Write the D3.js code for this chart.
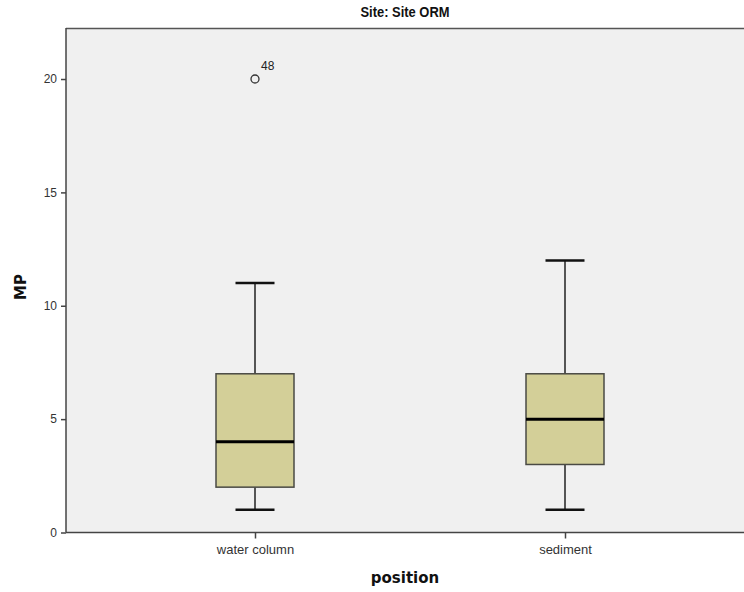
<!DOCTYPE html>
<html><head><meta charset="utf-8">
<script src="https://cdn.jsdelivr.net/npm/d3@7"></script>
<style>body{margin:0;background:#fff}svg{display:block}</style>
</head><body>
<script>
const categories = ["water column", "sediment"];
const whiskerLow = [1, 1];
const q1 = [2, 3];
const median = [4, 5];
const q3 = [7, 7];
const whiskerHigh = [11, 12];
const outlierCat = ["water column"];
const outlierVal = [20];
const outlierLabel = ["48"];
const yTicks = [0, 5, 10, 15, 20];

const W = 744, H = 592;
const m = {left: 66, top: 28, right: 0, bottom: 59};
const svg = d3.select("body").append("svg").attr("width", W).attr("height", H);

const x = d3.scalePoint().domain(categories).range([255, 565]);
const y = d3.scaleLinear().domain([0, 22.25]).range([532.5, m.top]);

// plot background
svg.append("rect").attr("x", m.left).attr("y", m.top).attr("width", W - m.left).attr("height", y(0) - m.top)
  .attr("fill", "#f0f0f0");
svg.append("line").attr("x1", m.left).attr("x2", W).attr("y1", m.top + 0.5).attr("y2", m.top + 0.5)
  .attr("stroke", "#555").attr("stroke-width", 1.5);

// title
svg.append("text").attr("x", 405).attr("y", 17).attr("text-anchor", "middle")
  .attr("font-family", "'Liberation Sans Narrow', 'Arial Narrow', 'Liberation Sans', sans-serif").attr("font-weight", "bold")
  .attr("font-size", 14).attr("textLength", 89).attr("lengthAdjust", "spacingAndGlyphs")
  .attr("fill", "#111").text("Site: Site ORM");

// axes
const yAxis = d3.axisLeft(y).tickValues(yTicks).tickSize(5).tickFormat(d3.format("d"));
const gy = svg.append("g").attr("transform", `translate(${m.left},0)`).call(yAxis);
gy.select(".domain").attr("d", `M0,${m.top}V${y(0)}`).attr("stroke", "#444").attr("stroke-width", 1.5);
gy.selectAll(".tick line").attr("stroke", "#444").attr("stroke-width", 1.5);
gy.selectAll(".tick text").attr("font-family", "'Liberation Sans', Arial, sans-serif").attr("font-size", 12).attr("fill", "#333").attr("x", -9);

const xAxis = d3.axisBottom(x).tickSize(6);
const gx = svg.append("g").attr("transform", `translate(0,${y(0)})`).call(xAxis);
gx.select(".domain").attr("d", `M${m.left},0H${W}`).attr("stroke", "#444").attr("stroke-width", 1.5);
gx.selectAll(".tick line").attr("stroke", "#444").attr("stroke-width", 1.5);
gx.selectAll(".tick text").attr("font-family", "'Liberation Sans', Arial, sans-serif").attr("font-size", 13).attr("fill", "#333").attr("dy", "0.95em")
  .attr("transform", "scale(0.95,1)").attr("x", d => x(d) * 0 );
// keep labels centred on their ticks after horizontal condensing
gx.selectAll(".tick text").attr("transform", null).style("font-stretch", "condensed");

// axis titles
svg.append("text").attr("x", 405).attr("y", 583).attr("text-anchor", "middle")
  .attr("font-family", "'DejaVu Sans', sans-serif").attr("font-weight", "bold").attr("font-size", 15).attr("fill", "#111").text("position");
svg.append("text").attr("transform", "translate(26,287) rotate(-90)").attr("text-anchor", "middle")
  .attr("font-family", "'DejaVu Sans', sans-serif").attr("font-weight", "bold").attr("font-size", 15).attr("fill", "#111").text("MP");

// boxes
const boxW = 78, capW = 39;
const data = categories.map((c, i) => ({c, lo: whiskerLow[i], q1: q1[i], med: median[i], q3: q3[i], hi: whiskerHigh[i]}));
const g = svg.append("g");
data.forEach(d => {
  const cx = x(d.c);
  g.append("line").attr("x1", cx).attr("x2", cx).attr("y1", y(d.hi)).attr("y2", y(d.q3)).attr("stroke", "#222").attr("stroke-width", 1.5);
  g.append("line").attr("x1", cx).attr("x2", cx).attr("y1", y(d.q1)).attr("y2", y(d.lo)).attr("stroke", "#222").attr("stroke-width", 1.5);
  g.append("line").attr("x1", cx - capW / 2).attr("x2", cx + capW / 2).attr("y1", y(d.hi)).attr("y2", y(d.hi)).attr("stroke", "#111").attr("stroke-width", 2.5);
  g.append("line").attr("x1", cx - capW / 2).attr("x2", cx + capW / 2).attr("y1", y(d.lo)).attr("y2", y(d.lo)).attr("stroke", "#111").attr("stroke-width", 2.5);
  g.append("rect").attr("x", cx - boxW / 2).attr("y", y(d.q3)).attr("width", boxW).attr("height", y(d.q1) - y(d.q3))
    .attr("fill", "#d3cf98").attr("stroke", "#4a4a44").attr("stroke-width", 1.5);
  g.append("line").attr("x1", cx - boxW / 2).attr("x2", cx + boxW / 2).attr("y1", y(d.med)).attr("y2", y(d.med)).attr("stroke", "#000").attr("stroke-width", 3);
});

// outliers
outlierCat.forEach((c, i) => {
  const cx = x(c), cy = y(outlierVal[i]);
  svg.append("circle").attr("cx", cx).attr("cy", cy).attr("r", 4).attr("fill", "none").attr("stroke", "#333").attr("stroke-width", 1.3);
  svg.append("text").attr("x", cx + 6).attr("y", cy - 9).attr("font-family", "'Liberation Sans', Arial, sans-serif")
    .attr("font-size", 12).attr("fill", "#222").text(outlierLabel[i]);
});
</script>
</body></html>
